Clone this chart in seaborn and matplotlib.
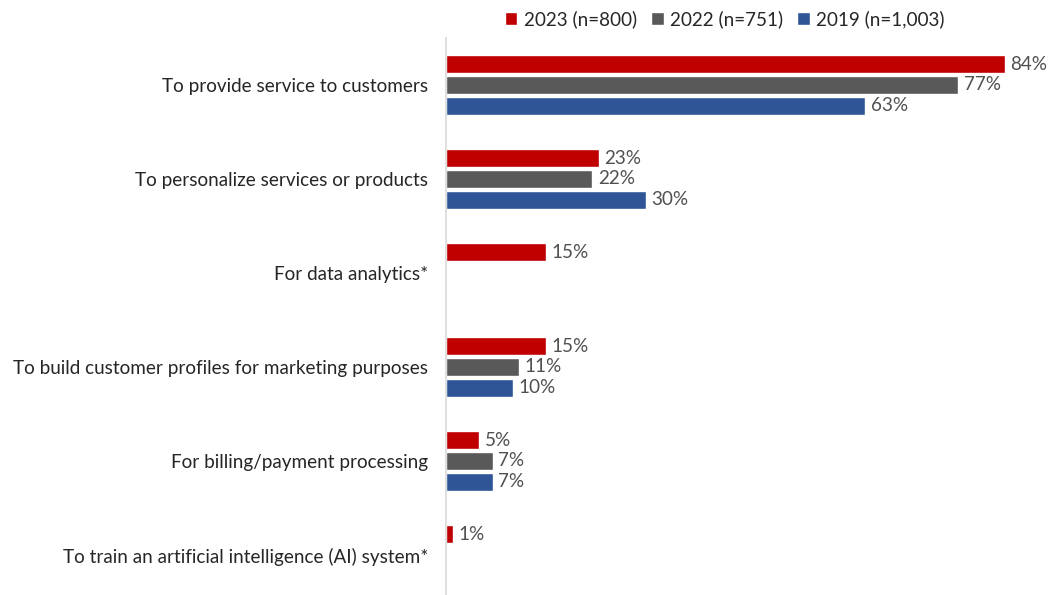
import numpy as np
import pandas as pd
import matplotlib
matplotlib.use("Agg")
import matplotlib.pyplot as plt
import seaborn as sns

categories = [
    "To provide service to customers",
    "To personalize services or products",
    "For data analytics*",
    "To build customer profiles for marketing purposes",
    "For billing/payment processing",
    "To train an artificial intelligence (AI) system*",
]
series = ["2023 (n=800)", "2022 (n=751)", "2019 (n=1,003)"]
values_2023 = [84, 23, 15, 15, 5, 1]
values_2022 = [77, 22, np.nan, 11, 7, np.nan]
values_2019 = [63, 30, np.nan, 10, 7, np.nan]
colors = ["#C00000", "#595959", "#2F5597"]

rows = []
for name, vals in zip(series, [values_2023, values_2022, values_2019]):
    for cat, v in zip(categories, vals):
        rows.append({"category": cat, "series": name, "value": v})
df = pd.DataFrame(rows)

sns.set_theme(style="white")
plt.rcParams["font.family"] = ["Lato", "DejaVu Sans"]

fig = plt.figure(figsize=(10.53, 5.95), dpi=100)
ax = fig.add_axes([446 / 1053, 0.0, 1 - 446 / 1053 - 8 / 1053, 1 - 38 / 595])

sns.barplot(
    data=df, y="category", x="value", hue="series", order=categories,
    hue_order=series, palette=colors, saturation=1, orient="h", width=0.67,
    gap=0.1, ax=ax, legend=True,
)

ax.set_xlim(0, 90)
ax.set_ylim(5.5 - 7 / 94, -0.5)
ax.set_xlabel("")
ax.set_ylabel("")
ax.set_xticks([])
ax.tick_params(axis="y", length=0, pad=13, labelsize=13.6, labelcolor="#262626")
for s in ["top", "right", "bottom"]:
    ax.spines[s].set_visible(False)
ax.spines["left"].set_color("#D9D9D9")
ax.spines["left"].set_linewidth(1.2)

for container in ax.containers:
    labels = ["" if np.isnan(v) else f"{v:.0f}%" for v in container.datavalues]
    ax.bar_label(container, labels=labels, padding=4, fontsize=13.6, color="#505050")

handles, labels = ax.get_legend_handles_labels()
ax.legend(
    handles, labels, loc="center", bbox_to_anchor=(725 / 1053, 1 - 19 / 595),
    bbox_transform=fig.transFigure, ncol=3, frameon=False, fontsize=13.6,
    handlelength=0.65, handleheight=0.65, handletextpad=0.35, columnspacing=0.75,
    labelcolor="#262626",
)

fig.savefig("out.png", dpi=100)
